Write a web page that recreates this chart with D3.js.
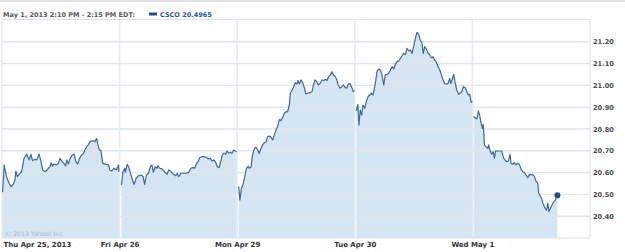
<!DOCTYPE html>
<html><head><meta charset="utf-8">
<script src="https://cdn.jsdelivr.net/npm/d3@7"></script>
<style>
html,body{margin:0;padding:0;background:#fff;}
svg{display:block;}
</style></head>
<body>
<svg id="chart" width="625" height="252"></svg>
<script>
// ---- data (minutes since 9:30 open, price) ----
const dayLabels = ["Thu Apr 25, 2013","Fri Apr 26","Mon Apr 29","Tue Apr 30","Wed May 1"];
const dayStarts = [0, 390, 780, 1170, 1560]; // trading minutes offset of each day
const yTicks = [20.40,20.50,20.60,20.70,20.80,20.90,21.00,21.10,21.20];
const headerText = "May 1, 2013 2:10 PM - 2:15 PM EDT:";
const seriesName = "CSCO";
const lastValue = 20.4965;

const thu = [[2,20.51],[7,20.635],[15,20.58],[24,20.55],[30,20.535],[38,20.548],[43,20.566],[46,20.607],[51,20.581],[60,20.597],[65,20.604],[73,20.665],[82,20.685],[90,20.658],[96,20.684],[101,20.655],[109,20.661],[115,20.658],[123,20.685],[128,20.658],[135,20.612],[143,20.604],[150,20.612],[159,20.627],[163,20.646],[167,20.63],[172,20.639],[181,20.635],[187,20.642],[192,20.665],[200,20.65],[206,20.642],[211,20.63],[215,20.658],[220,20.639],[226,20.665],[233,20.681],[239,20.685],[245,20.65],[251,20.639],[257,20.665],[264,20.681],[270,20.688],[275,20.704],[281,20.719],[286,20.727],[292,20.742],[301,20.746],[308,20.742],[314,20.757],[317,20.734],[323,20.704],[328,20.701],[334,20.642],[345,20.638],[353,20.635],[358,20.612],[364,20.607],[371,20.62],[380,20.612],[386,20.635],[388,20.604]];
const fri = [[6,20.543],[11,20.604],[17,20.62],[19,20.601],[25,20.638],[30,20.627],[36,20.597],[41,20.574],[48,20.546],[55,20.574],[63,20.586],[72,20.589],[78,20.581],[83,20.546],[89,20.589],[96,20.597],[102,20.627],[107,20.635],[112,20.601],[118,20.627],[124,20.62],[127,20.632],[133,20.62],[141,20.617],[149,20.604],[157,20.592],[163,20.612],[169,20.607],[175,20.597],[180,20.592],[186,20.586],[191,20.597],[196,20.581],[203,20.597],[210,20.597],[221,20.597],[229,20.601],[236,20.62],[243,20.623],[249,20.62],[254,20.638],[260,20.65],[266,20.669],[273,20.673],[282,20.673],[289,20.669],[295,20.662],[301,20.666],[306,20.653],[312,20.658],[318,20.65],[324,20.627],[330,20.623],[335,20.65],[341,20.681],[346,20.689],[352,20.684],[356,20.699],[362,20.689],[367,20.693],[373,20.689],[378,20.704],[384,20.699],[388,20.696]];
const mon = [[5,20.536],[9,20.474],[14,20.528],[20,20.548],[26,20.589],[31,20.62],[37,20.63],[40,20.62],[46,20.627],[51,20.681],[57,20.711],[62,20.716],[68,20.704],[73,20.688],[79,20.711],[84,20.727],[90,20.737],[96,20.742],[101,20.765],[107,20.768],[112,20.762],[118,20.75],[123,20.773],[129,20.796],[134,20.811],[140,20.844],[145,20.838],[151,20.854],[156,20.872],[162,20.88],[167,20.878],[173,20.91],[176,20.964],[182,20.979],[187,20.994],[193,21.013],[197,21.006],[202,21.022],[206,21.006],[212,21.025],[217,21.013],[223,20.987],[228,20.961],[234,20.964],[241,20.967],[248,20.971],[253,21.002],[258,21.025],[264,21.017],[269,21.002],[275,21.009],[281,21.025],[287,21.022],[292,21.028],[298,21.022],[303,21.04],[309,21.048],[314,21.063],[319,21.048],[324,21.043],[330,21.028],[335,21.002],[341,20.987],[347,20.994],[352,21.002],[358,20.991],[363,20.987],[369,21.006],[374,21.009],[380,20.991],[385,20.971],[389,20.976]];
const tue = [[5,20.883],[10,20.913],[14,20.818],[18,20.887],[23,20.864],[27,20.91],[33,20.895],[38,20.925],[44,20.948],[49,20.956],[55,20.964],[60,20.956],[64,20.979],[68,21.009],[74,21.066],[79,21.075],[85,21.071],[90,21.048],[96,21.002],[101,21.048],[107,21.051],[112,21.055],[118,21.071],[124,21.086],[129,21.075],[135,21.097],[140,21.109],[146,21.112],[151,21.124],[157,21.136],[162,21.147],[168,21.142],[173,21.17],[179,21.158],[184,21.162],[190,21.147],[195,21.178],[201,21.216],[206,21.243],[212,21.234],[217,21.208],[223,21.193],[227,21.147],[232,21.178],[237,21.167],[243,21.147],[248,21.142],[254,21.127],[259,21.132],[265,21.116],[271,21.106],[276,21.086],[282,21.071],[287,21.048],[293,21.025],[298,21.009],[304,21.005],[309,21.009],[315,21.032],[318,21.009],[324,21.032],[328,21.051],[332,21.017],[338,20.979],[344,20.959],[349,20.964],[355,20.971],[360,20.994],[366,20.99],[371,20.974],[377,20.956],[381,20.959],[386,20.922],[389,20.928]];
const wed = [[4,20.857],[11,20.849],[15,20.846],[20,20.883],[24,20.864],[29,20.826],[33,20.803],[36,20.821],[40,20.727],[45,20.719],[51,20.711],[54,20.727],[59,20.699],[64,20.684],[69,20.696],[73,20.666],[77,20.699],[84,20.699],[91,20.699],[97,20.699],[103,20.669],[108,20.658],[114,20.65],[119,20.653],[125,20.684],[128,20.643],[134,20.638],[139,20.647],[145,20.635],[150,20.643],[156,20.638],[161,20.617],[167,20.604],[172,20.601],[178,20.589],[184,20.577],[189,20.592],[195,20.589],[200,20.592],[206,20.581],[211,20.561],[217,20.551],[220,20.505],[226,20.49],[231,20.474],[236,20.451],[241,20.436],[246,20.428],[250,20.459],[254,20.421],[259,20.436],[264,20.451],[270,20.467],[275,20.474],[282,20.4965]];
const days = [thu, fri, mon, tue, wed];

// ---- drawing ----
const svg = d3.select("#chart");
const x = d3.scaleLinear().domain([0, 1950]).range([2, 590]);
const y = d3.scaleLinear().domain([20.30, 21.30]).range([238, 20]);

// top bar
svg.append("rect").attr("x",0).attr("y",0).attr("width",625).attr("height",2).attr("fill","#e3e3e3");

// header
const hdr = svg.append("text").attr("x",3).attr("y",16.5)
  .attr("font-family","'DejaVu Sans', Verdana, sans-serif").attr("font-size",6.5).attr("font-weight","bold")
  .attr("fill","#5a5a5a").text(headerText);
svg.append("rect").attr("x",149).attr("y",12.5).attr("width",8).attr("height",3).attr("fill","#1f4f8a");
svg.append("text").attr("x",160).attr("y",16.5)
  .attr("font-family","'DejaVu Sans', Verdana, sans-serif").attr("font-size",6.5).attr("font-weight","bold")
  .attr("fill","#2b5b95").text(seriesName + " " + lastValue.toFixed(4));

// areas
const area = d3.area().x(d => x(d[0])).y0(y(20.30)).y1(d => y(d[1])).curve(d3.curveLinear);
const line = d3.line().x(d => x(d[0])).y(d => y(d[1])).curve(d3.curveLinear);
const dayData = days.map((arr, i) => arr.map(d => [d[0] + dayStarts[i], d[1]]));

const gArea = svg.append("g");
dayData.forEach(dd => gArea.append("path").attr("d", area(dd)).attr("fill","#d5e5f1"));

// gridlines (over fill)
const gGrid = svg.append("g").attr("stroke","#dfe6ec").attr("stroke-width",1.4);
yTicks.forEach(t => gGrid.append("line").attr("x1",x(0)).attr("x2",x(1950)).attr("y1",y(t)).attr("y2",y(t)));
dayStarts.slice(1).forEach(t => gGrid.append("line").attr("x1",x(t)).attr("x2",x(t)).attr("y1",y(21.30)).attr("y2",y(20.30)).attr("stroke","#e4eaef"));

// frame
svg.append("rect").attr("x",x(0)).attr("y",y(21.30)-0.5).attr("width",x(1950)-x(0)).attr("height",y(20.30)-y(21.30)+0.5)
  .attr("fill","none").attr("stroke","#d9e1e8").attr("stroke-width",1);

// lines
const gLine = svg.append("g");
dayData.forEach(dd => gLine.append("path").attr("d", line(dd)).attr("fill","none")
  .attr("stroke","#3b6a9c").attr("stroke-width",1.2).attr("stroke-linejoin","round"));

// last point dot
const last = dayData[4][dayData[4].length-1];
svg.append("circle").attr("cx",x(last[0])).attr("cy",y(last[1])).attr("r",3).attr("fill","#1f4f85");

// copyright
svg.append("text").attr("x",5).attr("y",235.5)
  .attr("font-family","'DejaVu Sans', Verdana, sans-serif").attr("font-size",6.2)
  .attr("fill","#a8bac8").text("\u00A9 2013 Yahoo! Inc.");

// y axis
const yAxis = d3.axisRight(y).tickValues(yTicks).tickFormat(d3.format(".2f")).tickSize(0).tickPadding(3);
const gy = svg.append("g").attr("transform","translate(590,0)").call(yAxis);
gy.select(".domain").remove();
gy.selectAll("text").attr("font-family","'DejaVu Sans', Verdana, sans-serif").attr("font-size",6.6)
  .attr("font-weight","bold").attr("fill","#4a4a4a");

// x axis
const xAxis = d3.axisBottom(x).tickValues(dayStarts).tickFormat((d,i) => dayLabels[i]).tickSize(0).tickPadding(4);
const gx = svg.append("g").attr("transform","translate(0,238)").call(xAxis);
gx.select(".domain").remove();
gx.selectAll("text").attr("font-family","'DejaVu Sans', Verdana, sans-serif").attr("font-size",7)
  .attr("font-weight","bold").attr("fill","#333");
gx.selectAll(".tick").filter((d,i) => i === 0).select("text").attr("text-anchor","start").attr("dx",1);
</script>
</body></html>
